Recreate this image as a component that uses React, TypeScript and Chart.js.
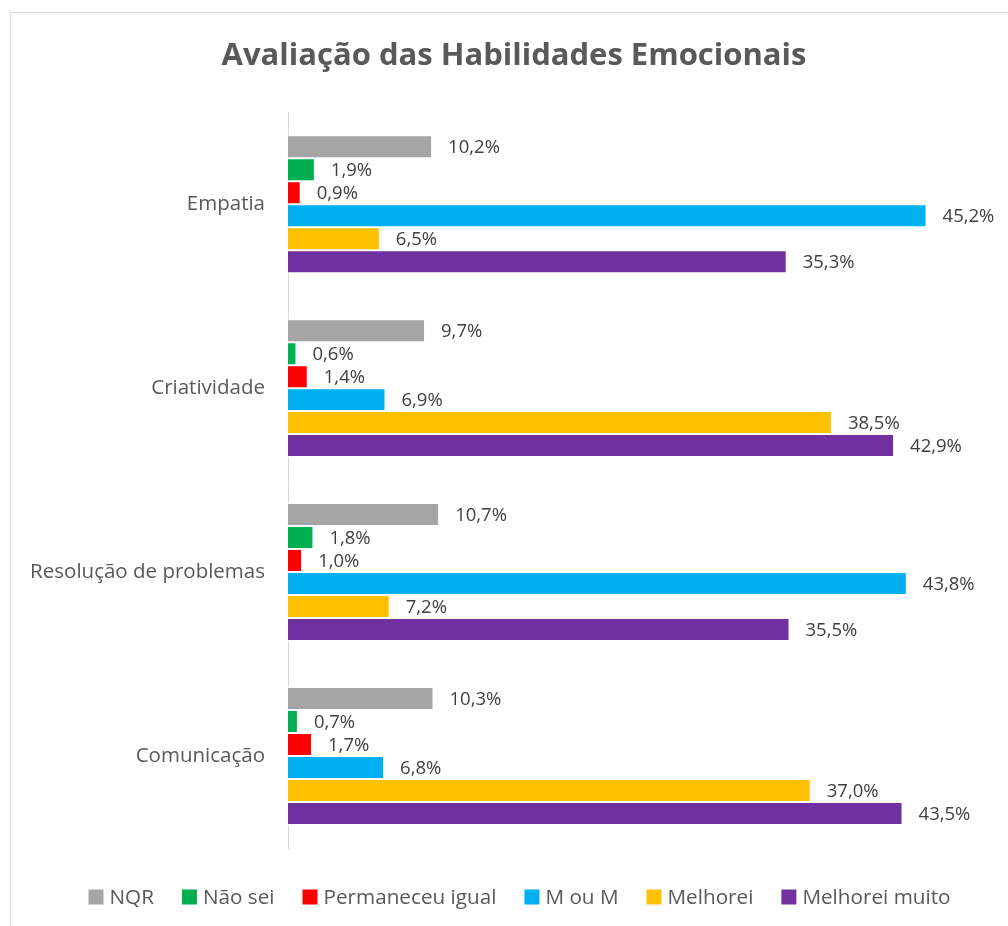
import React, { useEffect, useRef } from "react";
import { Chart, registerables } from "chart.js";

Chart.register(...registerables);

const categories = ["Empatia", "Criatividade", "Resolução de problemas", "Comunicação"];
const seriesNames = ["NQR", "Não sei", "Permaneceu igual", "M ou M", "Melhorei", "Melhorei muito"];
const seriesColors = ["#A5A5A5", "#00B050", "#FF0000", "#00B0F0", "#FFC000", "#7030A0"];
const nqr = [10.2, 9.7, 10.7, 10.3];
const naoSei = [1.9, 0.6, 1.8, 0.7];
const permaneceu = [0.9, 1.4, 1.0, 1.7];
const mOuM = [45.2, 6.9, 43.8, 6.8];
const melhorei = [6.5, 38.5, 7.2, 37.0];
const melhoreiMuito = [35.3, 42.9, 35.5, 43.5];
const seriesValues = [nqr, naoSei, permaneceu, mOuM, melhorei, melhoreiMuito];
const titleText = "Avaliação das Habilidades Emocionais";

const FONT = "'Open Sans', 'Noto Sans', sans-serif";

const dataLabelPlugin = {
  id: "dataLabels",
  afterDatasetsDraw(chart: any) {
    const ctx = chart.ctx;
    ctx.save();
    ctx.font = `18.5px ${FONT}`;
    ctx.fillStyle = "#404040";
    ctx.textAlign = "left";
    ctx.textBaseline = "middle";
    chart.data.datasets.forEach((ds: any, di: number) => {
      const meta = chart.getDatasetMeta(di);
      meta.data.forEach((el: any, i: number) => {
        const v = ds.data[i] as number;
        const txt = v.toFixed(1).replace(".", ",") + "%";
        ctx.fillText(txt, el.x + 16, el.y + 1);
      });
    });
    ctx.restore();
  },
};

const legendPlugin = {
  id: "customLegend",
  afterDraw(chart: any) {
    const ctx = chart.ctx;
    ctx.save();
    ctx.font = `20.7px ${FONT}`;
    ctx.textBaseline = "middle";
    ctx.textAlign = "left";
    const box = 15;
    const gap = 6;
    const spacing = 28;
    const widths = seriesNames.map((n) => box + gap + ctx.measureText(n).width);
    const total = widths.reduce((a, b) => a + b, 0) + spacing * (seriesNames.length - 1);
    let x = 508.5 - total / 2;
    const y = 884;
    seriesNames.forEach((n, i) => {
      ctx.fillStyle = seriesColors[i];
      ctx.fillRect(x, y - box / 2, box, box);
      ctx.fillStyle = "#595959";
      ctx.fillText(n, x + box + gap, y + 1);
      x += widths[i] + spacing;
    });
    ctx.restore();
  },
};

export default function App() {
  const ref = useRef<HTMLCanvasElement | null>(null);
  useEffect(() => {
    if (!ref.current) return;
    const chart = new Chart(ref.current, {
      type: "bar",
      data: {
        labels: categories,
        datasets: seriesNames.map((name, i) => ({
          label: name,
          data: seriesValues[i],
          backgroundColor: seriesColors[i],
          borderColor: "#FFFFFF",
          borderWidth: 1,
          categoryPercentage: 0.75,
          barPercentage: 1,
        })),
      },
      options: {
        indexAxis: "y",
        animation: false,
        responsive: false,
        maintainAspectRatio: false,
        layout: { padding: { top: 0, left: 0, right: 0, bottom: 78 } },
        plugins: {
          legend: { display: false },
          tooltip: { enabled: false },
          title: {
            display: true,
            text: titleText,
            color: "#595959",
            font: { family: FONT, size: 31, weight: "bold" },
            padding: { top: 25, bottom: 37 },
          },
        },
        scales: {
          x: { display: false, min: 0, max: 51.6 },
          y: {
            afterFit(scale: any) {
              scale.width = 277;
            },
            grid: { display: false, drawTicks: false },
            border: { display: true, color: "#D9D9D9", width: 1 },
            ticks: {
              color: "#595959",
              padding: 23,
              font: { family: FONT, size: 20.5 },
            },
          },
        },
      },
      plugins: [dataLabelPlugin, legendPlugin],
    } as any);
    return () => chart.destroy();
  }, []);
  return (
    <div
      style={{
        position: "absolute",
        left: 10,
        top: 12,
        width: 1010,
        height: 930,
        border: "1px solid #D9D9D9",
        background: "#FFFFFF",
      }}
    >
      <canvas ref={ref} width={1006} height={913} style={{ display: "block", width: 1006, height: 913 }} />
    </div>
  );
}
